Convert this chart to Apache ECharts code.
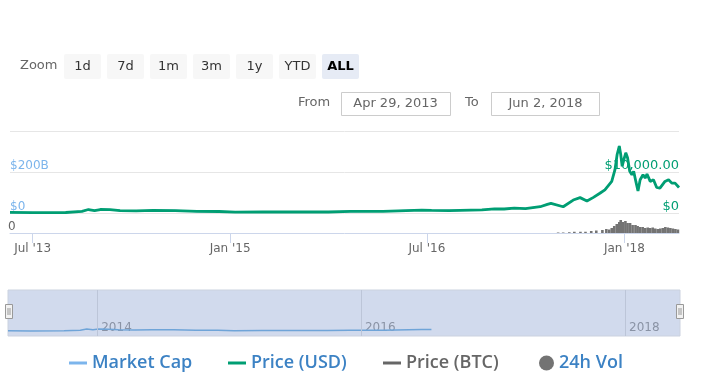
<!DOCTYPE html>
<html><head><meta charset="utf-8">
<script src="https://cdn.jsdelivr.net/npm/echarts@6/dist/echarts.min.js"></script>
<style>html,body{margin:0;padding:0;background:#fff}#c{width:701px;height:388px}</style>
</head><body><div id="c"></div>
<script>
// ---- data ----
const dates = ['2013-04-29','2013-07-01','2013-10-01','2013-11-15','2013-12-03','2013-12-20','2014-01-05','2014-02-01','2014-03-01','2014-04-15','2014-06-01','2014-08-01','2014-10-01','2014-12-01','2015-01-15','2015-04-01','2015-07-01','2015-10-01','2015-12-01','2016-03-01','2016-06-17','2016-07-14','2016-09-01','2016-12-01','2017-01-05','2017-02-01','2017-03-01','2017-04-01','2017-05-12','2017-06-01','2017-06-11','2017-07-15','2017-08-12','2017-08-31','2017-09-19','2017-10-06','2017-10-25','2017-11-08','2017-11-13','2017-11-27','2017-12-06','2017-12-12','2017-12-18','2017-12-22','2017-12-26','2018-01-01','2018-01-05','2018-01-10','2018-01-16','2018-01-22','2018-01-27','2018-02-02','2018-02-08','2018-02-14','2018-02-22','2018-02-28','2018-03-05','2018-03-14','2018-03-23','2018-04-01','2018-04-10','2018-04-24','2018-05-04','2018-05-13','2018-05-22','2018-06-02'];
const priceUSD = [140,90,125,420,850,600,850,800,600,500,630,590,380,370,210,245,260,240,380,420,720,660,580,760,1000,980,1200,1080,1530,2100,2350,1530,3160,3750,2910,3750,4810,5630,5230,7700,10570,14270,16340,14270,11410,13460,14690,13460,10170,9330,10170,7700,5380,8100,9330,8520,9500,7700,8100,6220,6050,7700,8100,7280,7280,6220];
const marketCapB = [2.8,1.8,2.5,8.4,17,12,17,16,12,10,12.6,11.8,7.6,7.4,4.2,4.9,5.2,4.8,7.6,8.4,14.4,13.2,11.6,15.2,20,19.6,24,21.6,30.6,42,47,30.6,63,75,58,75,96,113,105,154,211,285,327,285,228,269,294,269,203,187,203,154,108,162,187,170,190,154,162,124,121,154,162,146,146,124];
const priceBTC = [];
const volDates = ['2017-07-01','2017-07-15','2017-08-01','2017-08-15','2017-09-01','2017-09-15','2017-10-01','2017-10-15','2017-11-01','2017-11-12','2017-11-20','2017-11-27','2017-12-04','2017-12-11','2017-12-18','2017-12-22','2017-12-28','2018-01-04','2018-01-10','2018-01-17','2018-01-24','2018-02-01','2018-02-07','2018-02-14','2018-02-21','2018-02-28','2018-03-07','2018-03-14','2018-03-21','2018-03-28','2018-04-04','2018-04-11','2018-04-18','2018-04-25','2018-05-02','2018-05-09','2018-05-16','2018-05-23','2018-05-30'];
const volumeB = [1,1,1.5,2.5,2.5,2.5,4,5,6,8,7,10,14,18,22,26,22,24,20,20,16,16,14,12,12,10,11,10,11,9,8,9,10,12,11,10,9,8,7];
const xTickDates = ['2013-07-01','2015-01-01','2016-07-01','2018-01-01'];
const xTickLabels = ["Jul '13","Jan '15","Jul '16","Jan '18"];
const navTickDates = ['2014-01-01','2016-01-01','2018-01-01'];
const navTickLabels = ['2014','2016','2018'];
const navEndDate = '2016-07-14';
const startDate = '2013-04-29', endDate = '2018-06-02';
const zoomButtons = ['1d','7d','1m','3m','1y','YTD','ALL'];
const fromText = 'Apr 29, 2013', toText = 'Jun 2, 2018';

// ---- build ----
const T = d => Date.parse(d);
const xMin = T(startDate), xMax = T(endDate);
const priceData = dates.map((d,i)=>[T(d), priceUSD[i]]);
const mcapData = dates.map((d,i)=>[T(d), marketCapB[i]]);
const navData = dates.filter(d => T(d) <= T(navEndDate)).map(d => [T(d), marketCapB[dates.indexOf(d)]]);
const volData = volDates.map((d,i)=>[T(d), volumeB[i]]);
const xTicks = xTickDates.map(T), navTicks = navTickDates.map(T);
const FONT = 'DejaVu Sans';

const gfx = [];
gfx.push({type:'text', left:20, top:59, style:{text:'Zoom', font:'13px "DejaVu Sans"', fill:'#666'}});
zoomButtons.forEach((b,i)=>{
  const sel = b==='ALL';
  gfx.push({type:'rect', shape:{x:64+i*43, y:54, width:37, height:25, r:2}, style:{fill: sel?'#e6ebf5':'#f7f7f7'}});
  gfx.push({type:'text', x:64+i*43+18.5, y:66.5, style:{text:b, font:(sel?'bold ':'')+'13px "DejaVu Sans"', fill: sel?'#000':'#333', align:'center', verticalAlign:'middle'}});
});
gfx.push({type:'text', x:298, y:103, style:{text:'From', font:'13px "DejaVu Sans"', fill:'#666', verticalAlign:'middle'}});
gfx.push({type:'rect', shape:{x:341.5, y:92.5, width:109, height:23}, style:{fill:'#fff', stroke:'#ccc', lineWidth:1}});
gfx.push({type:'text', x:395.5, y:103.5, style:{text:fromText, font:'13px "DejaVu Sans"', fill:'#666', align:'center', verticalAlign:'middle'}});
gfx.push({type:'text', x:465, y:103, style:{text:'To', font:'13px "DejaVu Sans"', fill:'#666', verticalAlign:'middle'}});
gfx.push({type:'rect', shape:{x:491.5, y:92.5, width:108, height:23}, style:{fill:'#fff', stroke:'#ccc', lineWidth:1}});
gfx.push({type:'text', x:545.5, y:103.5, style:{text:toText, font:'13px "DejaVu Sans"', fill:'#666', align:'center', verticalAlign:'middle'}});
[5, 676].forEach(hx=>{
  gfx.push({type:'rect', z:100, shape:{x:hx+0.5, y:304.5, width:7, height:14}, style:{fill:'#f2f2f2', stroke:'#999', lineWidth:1}});
  gfx.push({type:'line', z:101, shape:{x1:hx+3, y1:308, x2:hx+3, y2:315}, style:{stroke:'#999', lineWidth:1}});
  gfx.push({type:'line', z:101, shape:{x1:hx+5, y1:308, x2:hx+5, y2:315}, style:{stroke:'#999', lineWidth:1}});
});

const legendText = {fontFamily:'Open Sans', fontWeight:600, fontSize:18};
const mkLegend = (name, left, icon, color, w, h) => ({
  left, top:349, selectedMode:false, itemWidth:w, itemHeight:h, icon,
  textStyle:Object.assign({color}, legendText), data:[{name, icon}]
});

const option = {
  animation:false,
  textStyle:{fontFamily:FONT},
  graphic:{elements:gfx},
  legend:[
    mkLegend('Market Cap', 64, 'rect', '#3c82c4', 18, 3),
    mkLegend('Price (USD)', 223, 'rect', '#3c82c4', 18, 3),
    mkLegend('Price (BTC)', 378, 'rect', '#666', 18, 3),
    mkLegend('24h Vol', 534, 'circle', '#3c82c4', 15, 15)
  ],
  grid:[
    {left:10, right:22, top:131, height:82},
    {left:10, right:22, top:218, height:15},
    {left:8, right:21, top:290, height:46, show:true, backgroundColor:'#d1daed', borderColor:'#cbd2df', borderWidth:1}
  ],
  xAxis:[
    {type:'value', gridIndex:0, min:xMin, max:xMax, axisLine:{show:false}, axisTick:{show:false}, axisLabel:{show:false}, splitLine:{show:false}},
    {type:'value', gridIndex:1, min:xMin, max:xMax,
      axisLine:{show:true, lineStyle:{color:'#ccd6eb'}},
      axisTick:{show:true, customValues:xTicks, length:10, lineStyle:{color:'#ccd6eb'}},
      axisLabel:{customValues:xTicks, color:'#666', fontSize:12, margin:10, formatter:v=>xTickLabels[xTicks.indexOf(v)] || ''},
      splitLine:{show:false}},
    {type:'value', gridIndex:2, min:xMin, max:xMax, axisLine:{show:false}, axisTick:{show:false}, splitLine:{show:false},
      axisLabel:{inside:true, customValues:navTicks, color:'#8a93a5', fontSize:12, margin:2, align:'left', padding:[0,0,0,4], formatter:v=>navTickLabels[navTicks.indexOf(v)] || ''}}
  ],
  yAxis:[
    {type:'value', gridIndex:0, position:'left', min:0, max:400, interval:200,
      axisLine:{show:false}, axisTick:{show:false},
      axisLabel:{inside:true, margin:0, showMaxLabel:false, verticalAlign:'bottom', color:'#7cb5ec', fontSize:12, formatter:v=>v===0?'$0':'$'+v+'B'},
      splitLine:{show:true, lineStyle:{color:'#e6e6e6'}}},
    {type:'value', gridIndex:0, position:'right', min:0, max:20000, interval:10000,
      axisLine:{show:false}, axisTick:{show:false},
      axisLabel:{inside:true, margin:0, showMaxLabel:false, verticalAlign:'bottom', color:'#009e73', fontSize:13,
        formatter:v=>v===0?'$0':'$'+v.toLocaleString('en-US',{minimumFractionDigits:2})},
      splitLine:{show:false}},
    {type:'value', gridIndex:1, position:'left', min:0, max:30, interval:30,
      axisLine:{show:false}, axisTick:{show:false},
      axisLabel:{inside:true, margin:-2, showMaxLabel:false, verticalAlign:'bottom', color:'#666', fontSize:12},
      splitLine:{show:false}},
    {type:'value', gridIndex:2, min:-40, max:340, show:false}
  ],
  series:[
    {name:'Market Cap', type:'line', xAxisIndex:0, yAxisIndex:0, data:mcapData, symbol:'none', z:2,
      itemStyle:{color:'#7cb5ec'}, lineStyle:{color:'#7cb5ec', width:1.5}},
    {name:'Price (USD)', type:'line', xAxisIndex:0, yAxisIndex:1, data:priceData, symbol:'none', z:3,
      itemStyle:{color:'#009e73'}, lineStyle:{color:'#009e73', width:2.8}},
    {name:'Price (BTC)', type:'line', xAxisIndex:0, yAxisIndex:1, data:priceBTC, symbol:'none',
      itemStyle:{color:'#666'}, lineStyle:{color:'#666', width:2}},
    {name:'24h Vol', type:'bar', xAxisIndex:1, yAxisIndex:2, data:volData, barWidth:2.6,
      itemStyle:{color:'#737373'}},
    {name:'nav', type:'line', xAxisIndex:2, yAxisIndex:3, data:navData, symbol:'none', silent:true,
      lineStyle:{color:'#6fa4d8', width:1.5},
      markLine:{silent:true, symbol:['none','none'], label:{show:false}, lineStyle:{color:'#bcc5d8', type:'solid', width:1},
        data:navTicks.map(t=>({xAxis:t}))}}
  ]
};
const chart = echarts.init(document.getElementById('c'), null, {renderer:'canvas'});
chart.setOption(option);
</script></body></html>
